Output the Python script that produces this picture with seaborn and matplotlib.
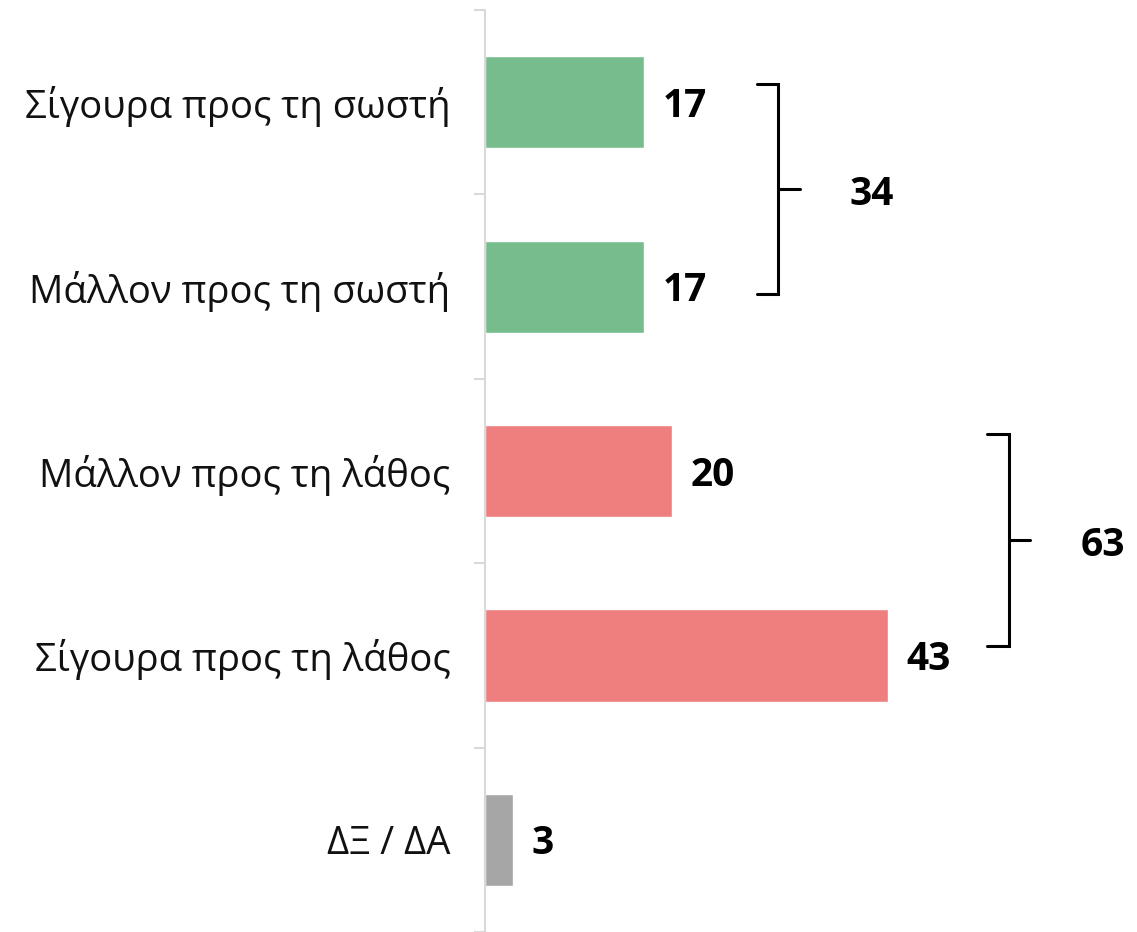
import matplotlib
matplotlib.use("Agg")
import matplotlib.pyplot as plt
import pandas as pd
import seaborn as sns

# data
categories = [
    "Σίγουρα προς τη σωστή",
    "Μάλλον προς τη σωστή",
    "Μάλλον προς τη λάθος",
    "Σίγουρα προς τη λάθος",
    "ΔΞ / ΔΑ",
]
values = [17, 17, 20, 43, 3]
groups = ["right", "right", "wrong", "wrong", "dk"]
group_colors = {"right": "#76BC8C", "wrong": "#EE7F7E", "dk": "#A6A6A6"}

# bracket totals: (first index, last index, total)
brackets = [(0, 1, 34), (2, 3, 63)]
# bracket layout: x of the vertical line, top/bottom offsets from bar centres
bracket_layout = [(31.3, -0.10, 0.04), (55.9, -0.20, -0.05)]

sns.set_style("white")
plt.rcParams["font.family"] = ["Open Sans", "DejaVu Sans"]

df = pd.DataFrame({"category": categories, "value": values, "group": groups})

fig = plt.figure(figsize=(11.37, 9.32), dpi=100)
ax = fig.add_axes([485 / 1137, 0.0, 1 - 485 / 1137, 922 / 932])

sns.barplot(
    data=df, x="value", y="category", hue="group", palette=group_colors,
    dodge=False, width=0.5, legend=False, ax=ax, saturation=1,
)

ax.set_xlim(0, (1137 - 485) / 9.37)
ax.set_ylim(-0.5 + 922 / 185, -0.5)
ax.set_xlabel("")
ax.set_ylabel("")
ax.set_xticks([])

for side in ["top", "right", "bottom"]:
    ax.spines[side].set_visible(False)
ax.spines["left"].set_color("#D9D9D9")
ax.spines["left"].set_linewidth(1.5)

ax.set_yticks(range(len(categories)))
ax.set_yticklabels(categories, fontsize=27.5, color="#111111")
ax.tick_params(axis="y", which="major", length=0, pad=25)
ax.set_yticks([i - 0.5 for i in range(len(categories) + 1)], minor=True)
ax.tick_params(axis="y", which="minor", left=True, length=8, width=1.5,
               color="#D9D9D9")

for i, v in enumerate(values):
    ax.annotate(
        str(v), xy=(v, i), xytext=(13, -3), textcoords="offset points",
        ha="left", va="center", fontsize=28, fontweight="bold", color="black",
    )

# group brackets
for (start, end, total), (x_line, dtop, dbot) in zip(brackets, bracket_layout):
    top = start + dtop
    bottom = end + dbot
    ax.plot([x_line - 2.3, x_line, x_line, x_line - 2.3],
            [top, top, bottom, bottom], color="black", lw=2.2,
            clip_on=False, solid_joinstyle="miter")
    mid = (top + bottom) / 2
    ax.plot([x_line, x_line + 2.3], [mid, mid], color="black", lw=2.2,
            clip_on=False)
    ax.text(x_line + 10.0, mid + 0.03, str(total), ha="center", va="center",
            fontsize=28, fontweight="bold", color="black")

fig.savefig("out.png", dpi=100)
